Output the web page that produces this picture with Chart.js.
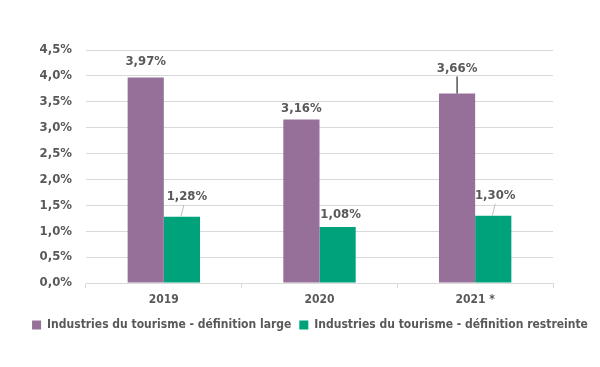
<!DOCTYPE html>
<html>
<head>
<meta charset="utf-8">
<script src="https://cdn.jsdelivr.net/npm/chart.js@4.4.0/dist/chart.umd.min.js"></script>
<style>
  html, body { margin: 0; padding: 0; background: #fff; }
  #wrap { width: 600px; height: 367px; }
</style>
</head>
<body>
<div id="wrap"><canvas id="grafico" width="600" height="367"></canvas></div>
<script>
// donnees
const annees = ["2019", "2020", "2021 *"];
const defLarge = [3.97, 3.16, 3.66];
const defRestreinte = [1.28, 1.08, 1.30];
const ticksY = [0, 0.5, 1, 1.5, 2, 2.5, 3, 3.5, 4, 4.5];

const police = "'Liberation Sans Narrow', 'DejaVu Sans Condensed', sans-serif";
const gris = "#595959";

function pct(v, dec) {
    return v.toFixed(dec).replace(".", ",") + "%";
}

// texte un peu plus serre (la police d'origine est etroite)
const serre = {
    id: "serre",
    beforeInit(chart) { chart.ctx.letterSpacing = "-0.5px"; }
};

// etiquettes au-dessus des barres (avec traits de rappel comme dans Excel)
const etiquettes = {
    id: "etiquettes",
    afterDatasetsDraw(chart) {
        const ctx = chart.ctx;
        // decalages des etiquettes : [dataset][point] = [dx, hauteur, trait]
        const decal = [
            [[0, 16, false], [0, 11, false], [0, 25, "#000"]],
            [[5, 20, "#bfbfbf"], [3, 12, false], [2, 20, "#bfbfbf"]]
        ];
        ctx.save();
        ctx.font = "bold 13px " + police;
        ctx.fillStyle = gris;
        ctx.textAlign = "center";
        ctx.textBaseline = "middle";
        chart.data.datasets.forEach(function(ds, i) {
            const meta = chart.getDatasetMeta(i);
            meta.data.forEach(function(bar, j) {
                const d = decal[i][j];
                const x = bar.x + d[0];
                const y = bar.y - d[1];
                if (d[2]) {
                    ctx.strokeStyle = d[2];
                    ctx.lineWidth = 1;
                    ctx.beginPath();
                    ctx.moveTo(bar.x + (d[2] == "#000" ? 0 : 2), y + 8);
                    ctx.lineTo(bar.x - (d[2] == "#000" ? 0 : 1), bar.y);
                    ctx.stroke();
                }
                ctx.fillText(pct(ds.data[j], 2), x, y);
            });
        });
        ctx.restore();
    }
};

let g = document.getElementById("grafico").getContext("2d");
let graficoChart = new Chart(g, {
    type: "bar",
    data: {
        labels: annees,
        datasets: [{
            label: "Industries du tourisme - définition large",
            data: defLarge,
            backgroundColor: "#977099",
            borderWidth: 0
        }, {
            label: "Industries du tourisme - définition restreinte",
            data: defRestreinte,
            backgroundColor: "#00A27C",
            borderWidth: 0
        }]
    },
    options: {
        responsive: false,
        animation: false,
        layout: { padding: { top: 50, right: 0, left: 20, bottom: 26 } },
        datasets: { bar: { barPercentage: 1, categoryPercentage: 0.465 } },
        plugins: {
            legend: {
                position: "bottom",
                labels: {
                    boxWidth: 9,
                    boxHeight: 9,
                    padding: 8,
                    color: gris,
                    font: { family: police, size: 12, weight: "bold" }
                }
            },
            tooltip: { enabled: false }
        },
        scales: {
            x: {
                grid: { drawOnChartArea: false, color: "#d9d9d9", tickLength: 5 },
                border: { color: "#d9d9d9" },
                ticks: { color: gris, padding: 5, font: { family: police, size: 12, weight: "bold" } },
                afterFit: function(scale) { scale.height = 28; }
            },
            y: {
                min: 0,
                max: 4.5,
                afterBuildTicks: function(scale) {
                    scale.ticks = ticksY.map(function(v) { return { value: v }; });
                },
                grid: { color: "#d9d9d9", drawTicks: false },
                border: { display: false },
                ticks: {
                    color: gris,
                    padding: 14,
                    font: { family: police, size: 13, weight: "bold" },
                    callback: function(v) { return pct(v, 1); }
                },
                afterFit: function(scale) { scale.width = 66; }
            },
            // axe vide a droite pour garder la marge sans couper la legende
            y2: {
                position: "right",
                grid: { display: false },
                border: { display: false },
                ticks: { display: false },
                afterFit: function(scale) { scale.width = 47; }
            }
        }
    },
    plugins: [serre, etiquettes]
});
</script>
</body>
</html>
